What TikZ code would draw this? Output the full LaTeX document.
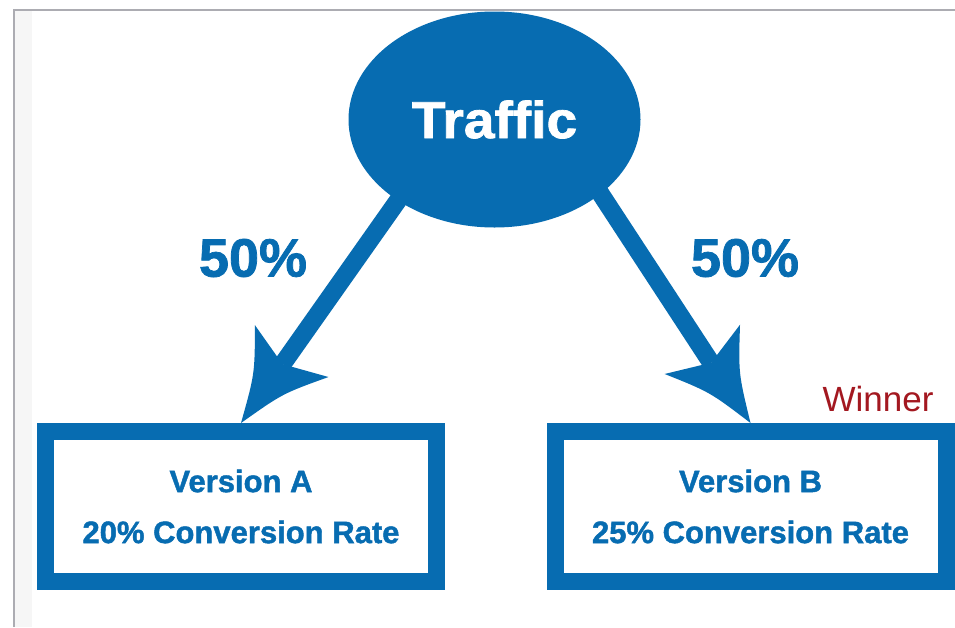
\documentclass[tikz,border=0pt]{standalone}
\usepackage{fontspec}
\setmainfont{Liberation Sans}
\newfontfamily\heavy{Liberation Sans}[BoldFeatures={FakeBold=1.4}]
\usetikzlibrary{shapes.geometric,calc}
\definecolor{abblue}{RGB}{7,108,177}
\definecolor{winred}{RGB}{163,24,32}
\definecolor{framegray}{RGB}{172,172,178}
\definecolor{panelgray}{RGB}{246,246,246}
\pgfdeclarelayer{bg}
\pgfdeclarelayer{paper}
\pgfsetlayers{paper,bg,main}
\newcommand\abarrow[2]{%
  \coordinate (hS) at ($(#1)!-50pt!(#2)$);
  \coordinate (hT) at (#2);
  \coordinate (hb) at ($(hT)!88pt!(hS)$);
  \coordinate (hn) at ($(hT)!72pt!(hS)$);
  \coordinate (hm) at ($(hT)!48pt!(hS)$);
  \coordinate (hBa) at ($(hb)!45pt!90:(hT)$);
  \coordinate (hBb) at ($(hb)!45pt!-90:(hT)$);
  \coordinate (hCa) at ($(hm)!17pt!90:(hT)$);
  \coordinate (hCb) at ($(hm)!17pt!-90:(hT)$);
  \draw[shaft] (hS) -- (hn);
  \fill[abblue] (hT) .. controls (hCa) .. (hBa) -- (hn) -- (hBb) .. controls (hCb) .. (hT);
}
\begin{document}
\begin{tikzpicture}[x=1pt,y=-1pt,
  box/.style={draw=abblue, line width=17pt, minimum width=391pt, minimum height=150pt,
    inner sep=0pt, align=center, text=abblue, font=\heavy\bfseries\fontsize{31}{51}\selectfont},
  pct/.style={text=abblue, font=\heavy\bfseries\fontsize{54}{60}\selectfont, inner sep=0pt},
  shaft/.style={draw=abblue, line width=18pt},
  bubble/.style={ellipse, fill=abblue, minimum width=292pt, minimum height=216pt,
    inner sep=0pt, text=white, font=\heavy\bfseries\fontsize{52}{60}\selectfont}]
\useasboundingbox (0,0) rectangle (955,627);
\begin{pgfonlayer}{paper}
\fill[white] (0,0) rectangle (955,627);
\fill[panelgray] (15,11) rectangle (32,627);
\draw[framegray, line width=2pt] (14,627) -- (14,10) -- (955,10);
\end{pgfonlayer}

\node[bubble] (T) at (494.5,119.5) {\scalebox{1.06}[1]{Traffic}};
\node[box] (A) at (241,506.5) {Version A\\20\% Conversion Rate};
\node[box] (B) at (750.5,506.5) {Version B\\25\% Conversion Rate};
\node[pct] (pA) at (253,258) {50\%};
\node[pct] (pB) at (745,258) {50\%};
\node[text=winred, font=\fontsize{35}{40}\selectfont, inner sep=0pt] (win) at (878,398.5) {Winner};

\begin{pgfonlayer}{bg}
  \abarrow{T.220}{A.north}
  \abarrow{T.-35}{B.north}
\end{pgfonlayer}
\end{tikzpicture}
\end{document}
